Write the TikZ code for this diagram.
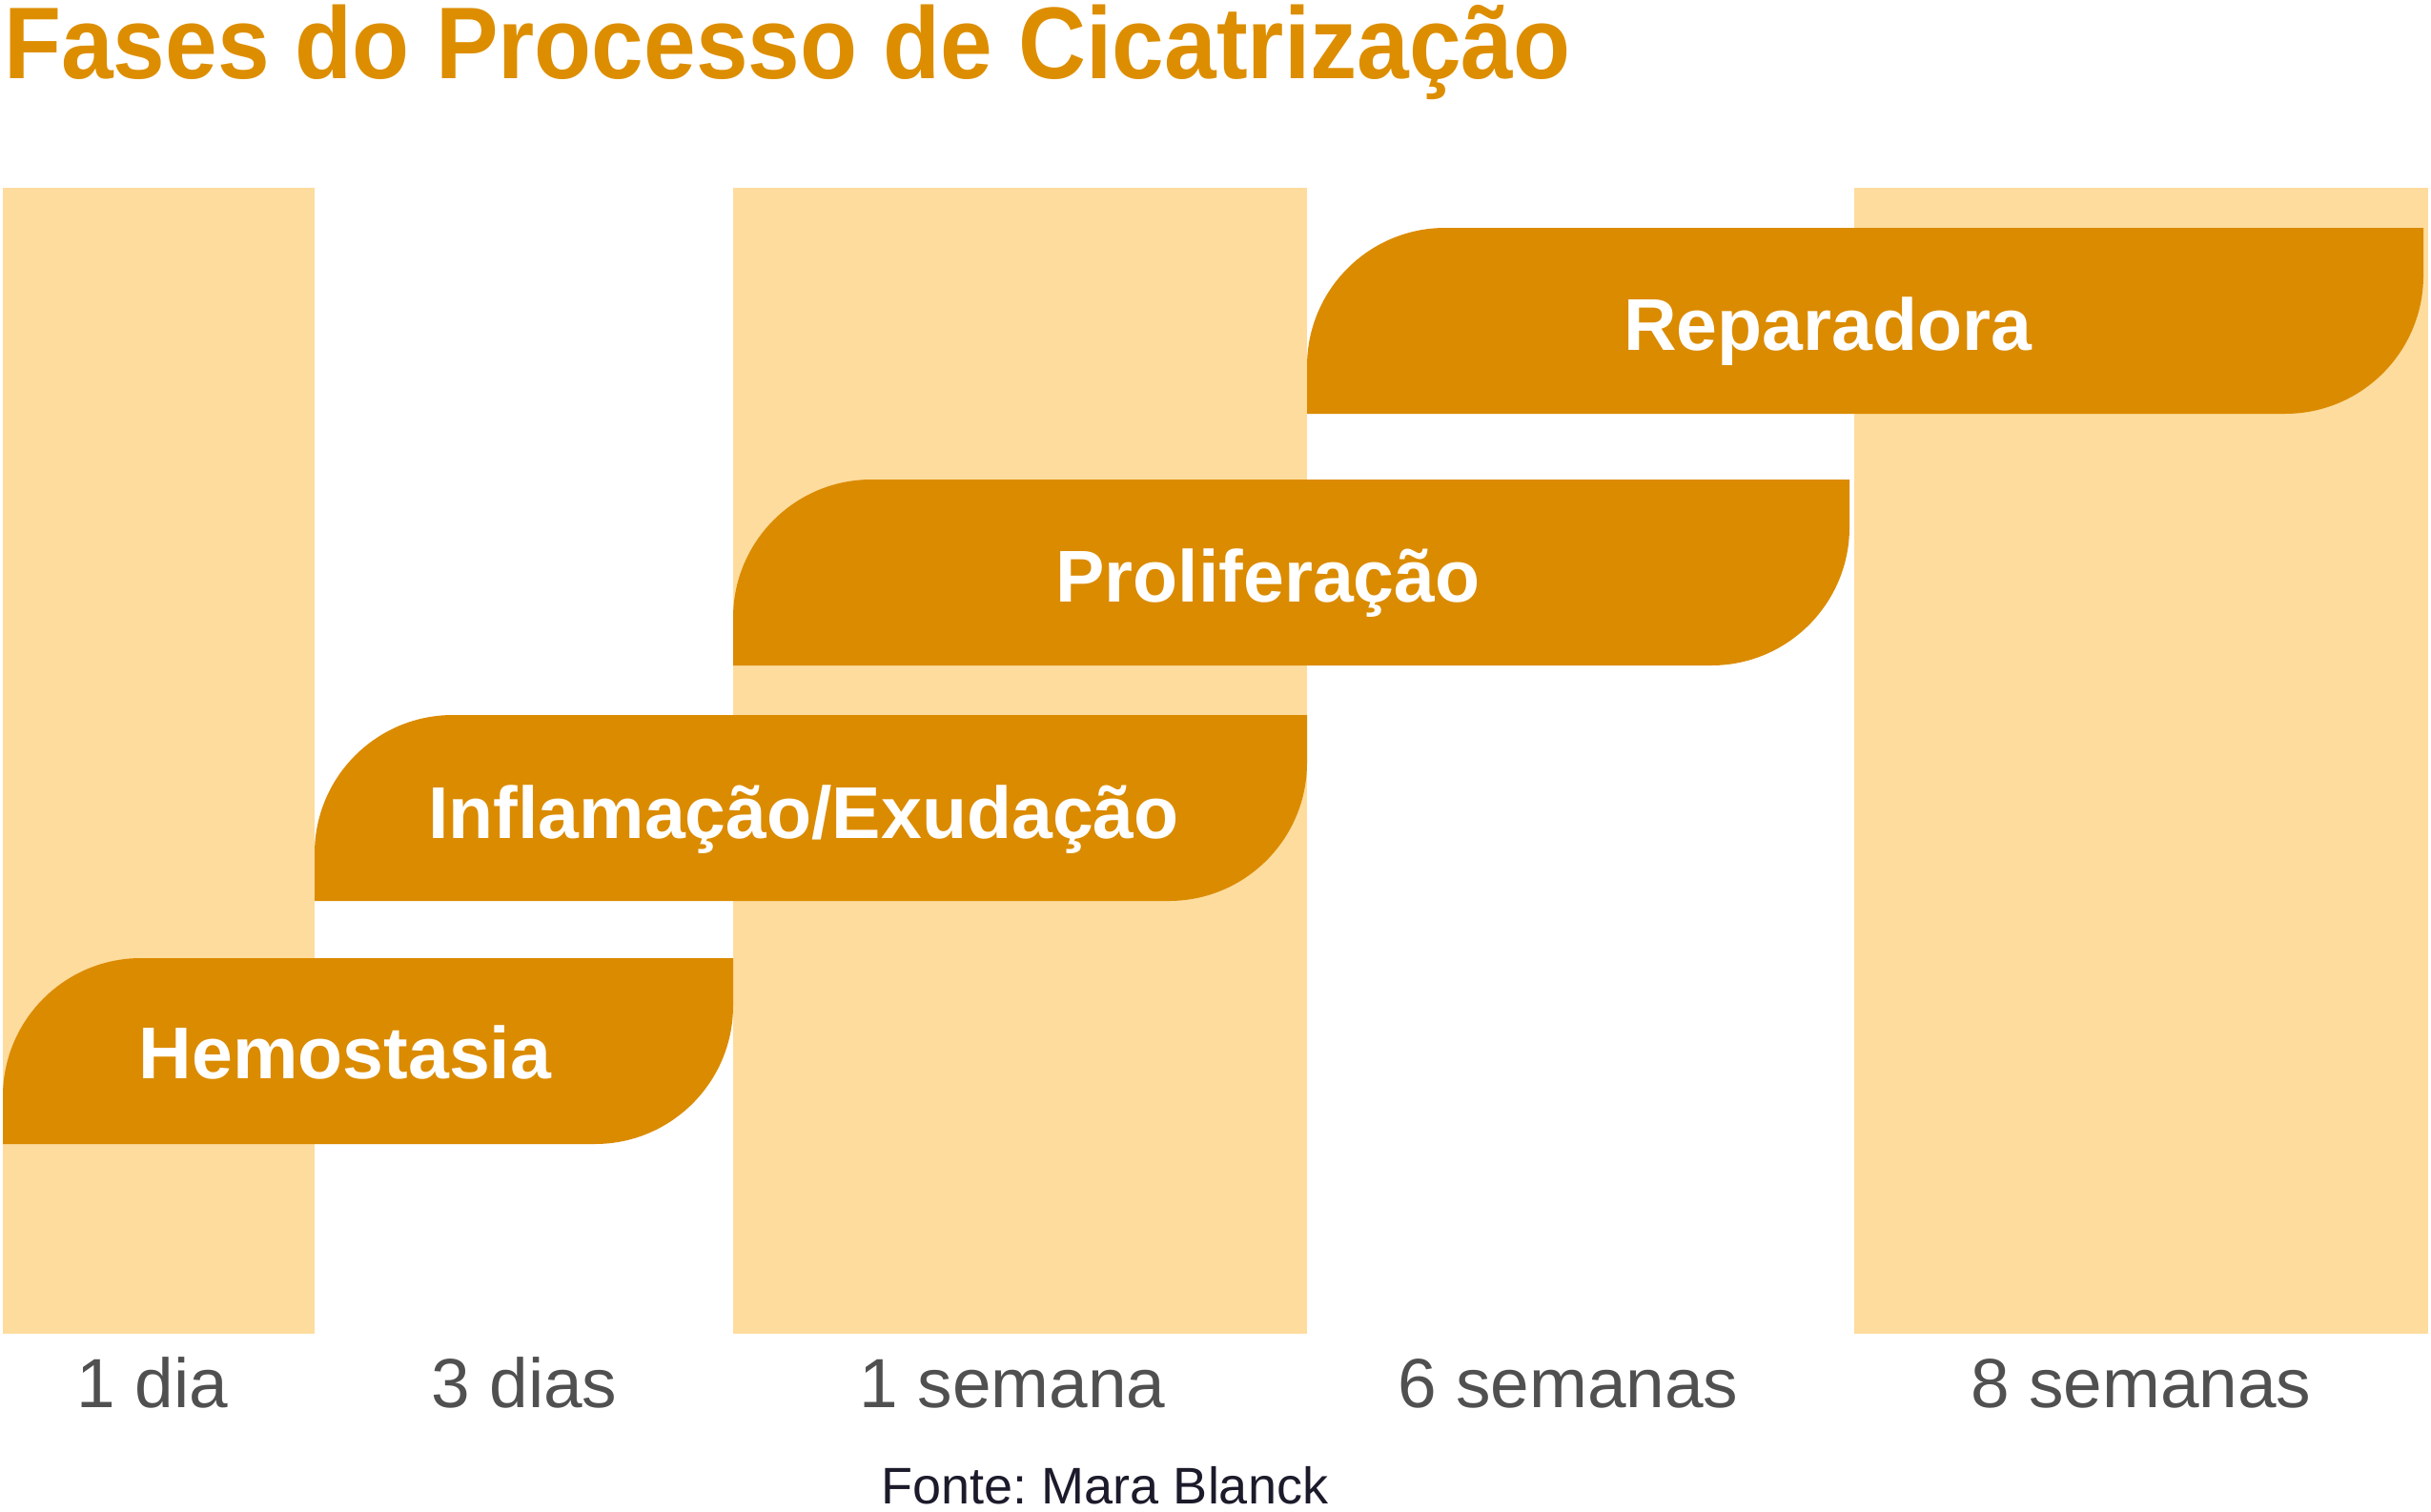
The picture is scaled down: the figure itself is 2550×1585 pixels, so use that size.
\documentclass[tikz,border=0pt]{standalone}
\usepackage{fontspec}
\setmainfont{Liberation Sans}
\frenchspacing
\definecolor{barorange}{RGB}{219,139,0}
\definecolor{titleorange}{RGB}{221,142,0}
\definecolor{colband}{RGB}{254,220,157}
\definecolor{timegray}{RGB}{80,80,80}
\definecolor{fontecol}{RGB}{27,27,43}
\tikzset{
  band/.style={fill=colband, draw=none},
  phasebar/.style={fill=barorange, draw=none},
  phaselabel/.style={inner sep=0pt, anchor=base, text=white, font=\bfseries\fontsize{77}{90}\selectfont},
  timelabel/.style={inner sep=0pt, anchor=base, text=timegray, font=\fontsize{73}{86}\selectfont},
}
% bar with rounded top-left and bottom-right corners: #1 left, #2 top, #3 right, #4 bottom, #5 radius
\newcommand{\phasebarpath}[5]{%
  \fill[phasebar] (#1,#4) -- (#1,#2+#5)
    .. controls (#1,#2+0.448*#5) and (#1+0.448*#5,#2) .. (#1+#5,#2)
    -- (#3,#2) -- (#3,#4-#5)
    .. controls (#3,#4-0.448*#5) and (#3-0.448*#5,#4) .. (#3-#5,#4)
    -- cycle;}
\begin{document}
\begin{tikzpicture}[x=1pt,y=-1pt]
\useasboundingbox (0,0) rectangle (2550,1585);
% title
\node[inner sep=0pt, anchor=base west, text=titleorange, font=\bfseries\fontsize{107}{120}\selectfont] (title) at (4,82) {\scalebox{0.918}[1]{Fases do Processo de Cicatrização}};
% column bands
\fill[band] (3,197) rectangle (330,1399);
\fill[band] (769,197) rectangle (1371,1399);
\fill[band] (1945,197) rectangle (2547,1399);
% phase bars
\phasebarpath{1371}{239}{2542}{434}{145}
\phasebarpath{769}{503}{1940}{698}{145}
\phasebarpath{330}{750}{1371}{945}{145}
\phasebarpath{3}{1005}{769}{1200}{145}
% phase labels
\node[phaselabel] (rep) at (1917,367) {Reparadora};
\node[phaselabel] (prol) at (1330,631) {Proliferação};
\node[phaselabel] (infl) at (843,879) {Inflamação/Exudação};
\node[phaselabel] (hemo) at (362,1131) {Hemostasia};
% time labels
\node[timelabel] (t1) at (160,1476) {1 dia};
\node[timelabel] (t2) at (550,1476) {3 dias};
\node[timelabel] (t3) at (1062,1476) {1 semana};
\node[timelabel] (t4) at (1645,1476) {6 semanas};
\node[timelabel] (t5) at (2246,1476) {8 semanas};
% source
\node[inner sep=0pt, anchor=base, text=fontecol, font=\fontsize{54}{64}\selectfont] (fonte) at (1159,1577) {Fonte: Mara Blanck};
\end{tikzpicture}
\end{document}
